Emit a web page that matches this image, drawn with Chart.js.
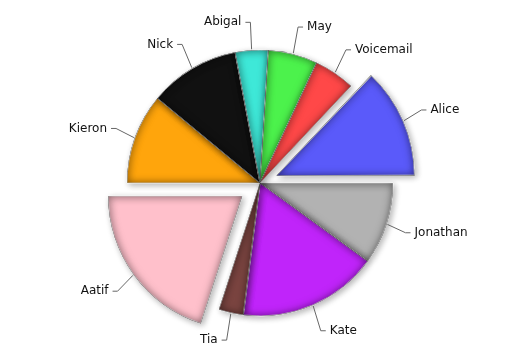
<!DOCTYPE html>
<html>
<head>
<meta charset="utf-8">
<script src="https://cdn.jsdelivr.net/npm/chart.js@4.4.0/dist/chart.umd.min.js"></script>
<style>
  html, body { margin: 0; padding: 0; background: #fff; }
  #wrap { width: 511px; height: 347px; }
</style>
</head>
<body>
<div id="wrap"><canvas id="pie-area"></canvas></div>
<script>
// calls per person (clockwise from Alice)
const names = ['Alice', 'Jonathan', 'Kate', 'Tia', 'Aatif', 'Kieron', 'Nick', 'Abigal', 'May', 'Voicemail'];
const calls = [13, 10, 17, 3, 20, 11, 11, 4, 6, 5];

const sliceColors = ['#5a5afa', '#b2b2b2', '#c024fa', '#7a4440', '#ffc0cb',
  '#ffa50c', '#111111', '#3ee8d8', '#4cf24c', '#ff4848'];

// same geometry chart.js uses when it pulls a slice out (offset / 4)
function arcShape(arc) {
  const p = arc.getProps(['x', 'y', 'startAngle', 'endAngle', 'outerRadius', 'circumference'], true);
  const off = (arc.options.offset || 0) / 4;
  const mid = (p.startAngle + p.endAngle) / 2;
  const fix = 1 - Math.sin(Math.min(Math.PI, p.circumference || 0));
  return {
    x: p.x + Math.cos(mid) * off,
    y: p.y + Math.sin(mid) * off,
    r: p.outerRadius + off * fix,
    start: p.startAngle,
    end: p.endAngle,
    mid,
  };
}

function slicePath(ctx, s) {
  ctx.moveTo(s.x, s.y);
  ctx.arc(s.x, s.y, s.r, s.start, s.end);
  ctx.closePath();
}

// drop shadow under the slices, then an inner shadow for the bevel look
const bevel = {
  id: 'bevel',
  beforeDatasetsDraw(chart) {
    const ctx = chart.ctx;
    ctx.save();
    ctx.shadowColor = 'rgba(0,0,0,0.3)';
    ctx.shadowBlur = 6;
    ctx.shadowOffsetX = 2;
    ctx.shadowOffsetY = 2;
  },
  afterDatasetsDraw(chart) {
    const ctx = chart.ctx;
    ctx.restore();
    chart.getDatasetMeta(0).data.forEach((arc) => {
      const s = arcShape(arc);
      ctx.save();
      ctx.beginPath();
      slicePath(ctx, s);
      ctx.clip();
      ctx.beginPath();
      ctx.rect(-1000, -1000, 3000, 3000);
      slicePath(ctx, s);
      ctx.shadowColor = 'rgba(0,0,0,0.5)';
      ctx.shadowBlur = 9;
      ctx.fillStyle = '#000';
      ctx.fill('evenodd');
      ctx.restore();
    });
  }
};

// names outside the pie with short leader lines
const callouts = {
  id: 'callouts',
  afterDraw(chart) {
    const ctx = chart.ctx;
    ctx.save();
    ctx.font = '12px "DejaVu Sans", Verdana, sans-serif';
    ctx.textBaseline = 'middle';
    ctx.strokeStyle = '#666';
    ctx.lineWidth = 1;
    ctx.fillStyle = '#111';
    chart.getDatasetMeta(0).data.forEach((arc, i) => {
      const s = arcShape(arc);
      const cx = Math.cos(s.mid), cy = Math.sin(s.mid);
      const x0 = s.x + cx * (s.r + 1), y0 = s.y + cy * (s.r + 1);
      const x1 = s.x + cx * (s.r + 20), y1 = s.y + cy * (s.r + 28);
      const dir = cx >= 0 ? 1 : -1;
      const x2 = x1 + dir * 5;
      ctx.beginPath();
      ctx.moveTo(x0, y0);
      ctx.lineTo(x1, y1);
      ctx.lineTo(x2, y1);
      ctx.stroke();
      ctx.textAlign = dir > 0 ? 'left' : 'right';
      ctx.fillText(names[i], x2 + dir * 4, y1);
    });
    ctx.restore();
  }
};

new Chart(document.getElementById('pie-area').getContext('2d'), {
  type: 'pie',
  data: {
    labels: names,
    datasets: [{
      data: calls,
      backgroundColor: sliceColors,
      borderColor: 'rgba(255,255,255,0.8)',
      borderWidth: 1,
      offset: [72, 0, 0, 0, 88, 0, 0, 0, 0, 0],
    }],
  },
  options: {
    responsive: true,
    maintainAspectRatio: false,
    animation: false,
    rotation: 43.2,
    radius: 133,
    layout: { padding: { left: 9, top: 19 } },
    plugins: {
      legend: { display: false },
      tooltip: { enabled: false },
    },
  },
  plugins: [bevel, callouts],
});
</script>
</body>
</html>
